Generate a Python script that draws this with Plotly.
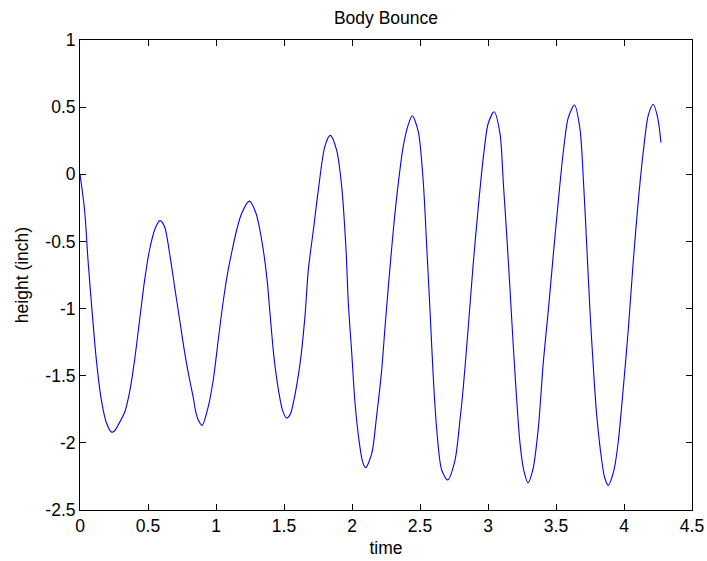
import plotly.graph_objects as go

# Sampled body displacement over time
time = [
    0.000, 0.034, 0.059, 0.088, 0.120, 0.157, 0.194, 0.232, 0.255, 0.279,
    0.329, 0.365, 0.402, 0.439, 0.475, 0.512, 0.554, 0.588, 0.622, 0.659,
    0.696, 0.733, 0.770, 0.806, 0.836, 0.848, 0.870, 0.898, 0.943, 0.980,
    1.017, 1.054, 1.090, 1.120, 1.152, 1.189, 1.245, 1.294, 1.336, 1.373,
    1.397, 1.426, 1.463, 1.490, 1.518, 1.545, 1.569, 1.618, 1.654, 1.679,
    1.716, 1.752, 1.801, 1.840, 1.887, 1.924, 1.956, 1.973, 1.998, 2.022,
    2.054, 2.078, 2.100, 2.145, 2.181, 2.218, 2.243, 2.267, 2.304, 2.340,
    2.377, 2.414, 2.443, 2.487, 2.524, 2.549, 2.574, 2.598, 2.623, 2.659,
    2.703, 2.757, 2.794, 2.819, 2.855, 2.892, 2.929, 2.966, 3.002, 3.045,
    3.088, 3.113, 3.137, 3.162, 3.186, 3.211, 3.235, 3.262, 3.294, 3.330,
    3.370, 3.407, 3.443, 3.480, 3.517, 3.554, 3.590, 3.636, 3.676, 3.704,
    3.726, 3.750, 3.775, 3.799, 3.831, 3.858, 3.885, 3.910, 3.929, 3.958,
    3.995, 4.032, 4.068, 4.105, 4.142, 4.179, 4.215, 4.248, 4.272,
]
height = [
    0.000, -0.27, -0.64, -1.01, -1.38, -1.68, -1.85, -1.92, -1.91, -1.87,
    -1.77, -1.62, -1.38, -1.08, -0.79, -0.56, -0.40, -0.345, -0.39, -0.59,
    -0.84, -1.085, -1.33, -1.53, -1.68, -1.755, -1.83, -1.87, -1.73, -1.53,
    -1.23, -0.94, -0.71, -0.56, -0.415, -0.29, -0.20, -0.29, -0.49, -0.76,
    -1.035, -1.36, -1.63, -1.76, -1.815, -1.79, -1.70, -1.41, -1.06, -0.71,
    -0.415, -0.12, 0.21, 0.29, 0.18, -0.09, -0.56, -0.96, -1.33, -1.70,
    -2.00, -2.14, -2.185, -2.08, -1.80, -1.46, -1.135, -0.84, -0.415, -0.07,
    0.21, 0.37, 0.436, 0.32, -0.055, -0.53, -1.02, -1.52, -1.90, -2.20,
    -2.276, -2.13, -1.83, -1.58, -1.135, -0.66, -0.24, 0.13, 0.38, 0.466,
    0.305, -0.07, -0.44, -0.86, -1.28, -1.68, -2.00, -2.20, -2.298, -2.20,
    -1.89, -1.395, -1.02, -0.60, -0.20, 0.17, 0.42, 0.516, 0.34, -0.09,
    -0.53, -1.02, -1.445, -1.79, -2.09, -2.26, -2.317, -2.26, -2.19, -1.99,
    -1.59, -1.15, -0.65, -0.20, 0.17, 0.44, 0.521, 0.42, 0.235,
]

x_ticks = [0, 0.5, 1, 1.5, 2, 2.5, 3, 3.5, 4, 4.5]
x_tick_labels = ["0", "0.5", "1", "1.5", "2", "2.5", "3", "3.5", "4", "4.5"]
y_ticks = [-2.5, -2, -1.5, -1, -0.5, 0, 0.5, 1]
y_tick_labels = ["-2.5", "-2", "-1.5", "-1", "-0.5", "0", "0.5", "1"]

FONT = "Liberation Sans, Arial, Helvetica, sans-serif"
FS = 17.5

fig = go.Figure()
fig.add_trace(go.Scatter(
    x=time, y=height, mode="lines",
    line=dict(color="#0000ff", width=1.1, shape="spline", smoothing=0.8),
    showlegend=False, hoverinfo="skip",
))

axis_common = dict(
    showgrid=False, zeroline=False, automargin=False,
    showline=True, linecolor="black", linewidth=1, mirror="allticks",
    ticks="inside", ticklen=6, tickwidth=1, tickcolor="black",
    tickfont=dict(family=FONT, size=FS, color="black"),
)

fig.update_layout(
    width=707, height=561,
    margin=dict(l=80, r=15, t=40, b=51, pad=0),
    paper_bgcolor="white", plot_bgcolor="white",
    font=dict(family=FONT, size=FS, color="black"),
    title=dict(text="Body Bounce", x=0.5, xref="paper", xanchor="center",
               y=1 - 18 / 561, yref="container", yanchor="middle",
               font=dict(family=FONT, size=FS, color="black")),
    xaxis=dict(range=[0, 4.5], tickvals=x_ticks, ticktext=x_tick_labels,
               title=dict(text="time", standoff=6,
                          font=dict(family=FONT, size=FS, color="black")),
               **axis_common),
    yaxis=dict(range=[-2.5, 1], tickvals=y_ticks, ticktext=y_tick_labels,
               title=dict(text="height (inch)", standoff=12,
                          font=dict(family=FONT, size=FS, color="black")),
               **axis_common),
)

fig.write_html("out.html")
